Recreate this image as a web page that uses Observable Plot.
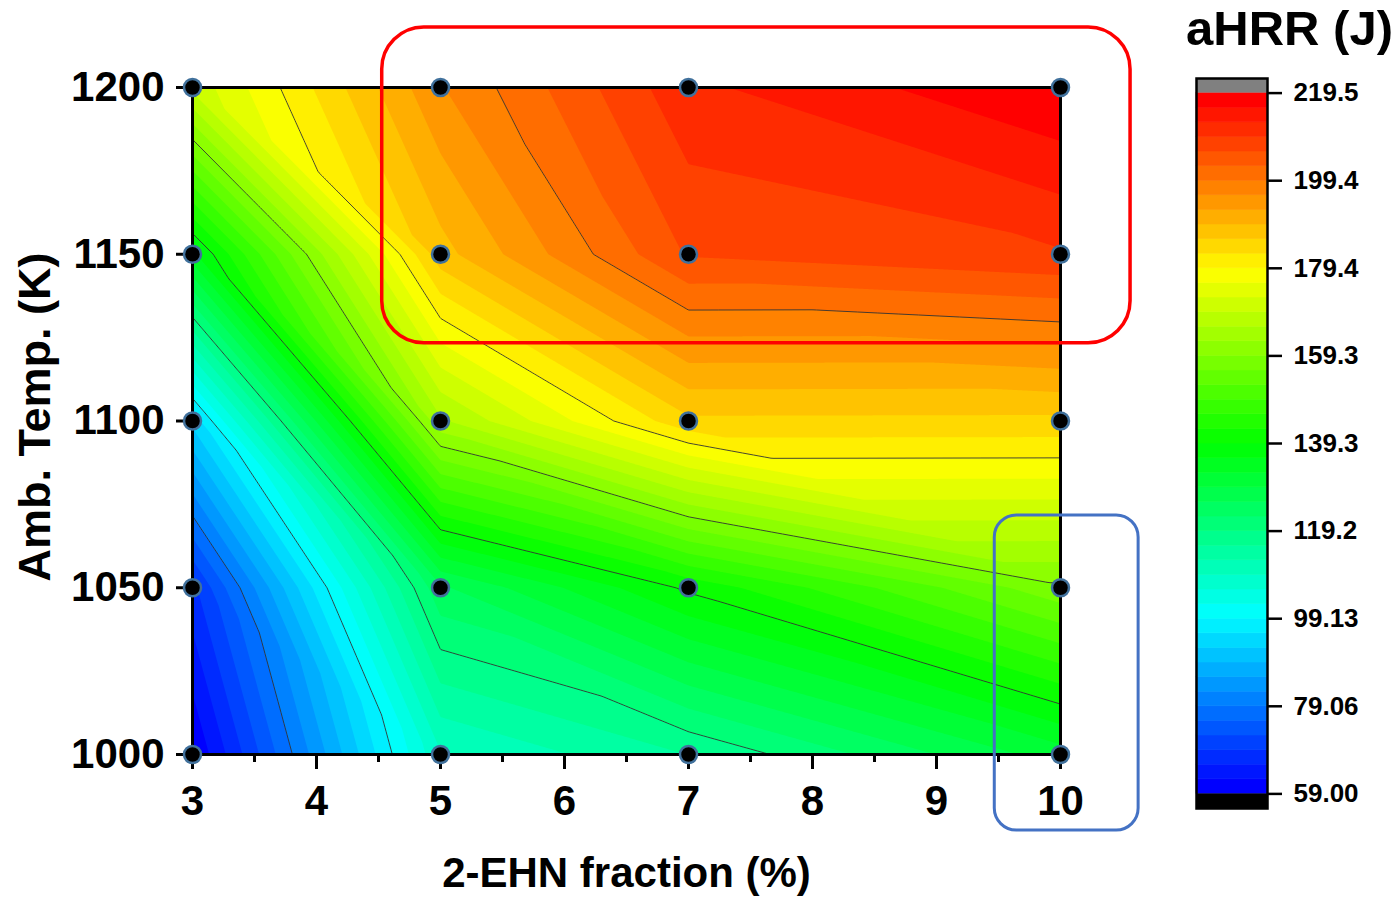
<!DOCTYPE html>
<html><head><meta charset="utf-8">
<script src="https://cdn.jsdelivr.net/npm/d3@7"></script>
<script src="https://cdn.jsdelivr.net/npm/@observablehq/plot@0.6"></script>
<style>
html,body{margin:0;padding:0;background:#fff;}
#wrap{position:relative;width:1400px;height:899px;overflow:hidden;}
#wrap svg{position:absolute;top:0;overflow:visible;}
</style></head><body><div id="wrap"></div>
<script>
// ---- data ----
const fractions = [3, 5, 7, 10];                 // 2-EHN fraction (%)
const temps = [1000, 1050, 1100, 1150, 1200];    // ambient temperature (K)
const hrr1000 = [59.0, 108.8, 115.9, 130.9];     // aHRR (J) at 1000 K
const hrr1050 = [68.1, 125.3, 140.0, 158.5];
const hrr1100 = [93.5, 165.4, 185.4, 185.3];
const hrr1150 = [134.8, 188.1, 206.5, 209.1];
const hrr1200 = [170.4, 195.8, 212.0, 219.5];
const xTicks = [3, 4, 5, 6, 7, 8, 9, 10];
const xMinorTicks = [3.5, 4.5, 5.5, 6.5, 7.5, 8.5, 9.5];
const yTicks = [1000, 1050, 1100, 1150, 1200];
const cbTickLabels = ["59.00", "79.06", "99.13", "119.2", "139.3", "159.3", "179.4", "199.4", "219.5"];
const rainbow = ["#0000ff", "#00ffff", "#00ff00", "#ffff00", "#ff0000"];
// highlight boxes (data units): red, blue
const boxX1 = [4.53, 9.47];
const boxX2 = [10.565, 10.63];
const boxY1 = [1123.3, 977.2];
const boxY2 = [1218.0, 1071.7];
const xTitle = "2-EHN fraction (%)";
const yTitle = "Amb. Temp. (K)";
const cbTitle = "aHRR (J)";

// ---- build tables ----
const rows = [hrr1000, hrr1050, hrr1100, hrr1150, hrr1200];
const pts = [];
temps.forEach((t, j) => fractions.forEach((f, i) => pts.push({x: f, y: t, v: rows[j][i]})));
const vMin = d3.min(pts, d => d.v), vMax = d3.max(pts, d => d.v);
const nBands = 48, step = (vMax - vMin) / nBands;
const bandLevels = d3.range(nBands).map(i => vMin + i * step);
const majorLevels = d3.range(1, 8).map(k => vMin + k * 6 * step);
const cbTicks = d3.range(9).map(k => vMin + k * 6 * step);
const topBand = bandLevels[nBands - 1];
const colorStops = rainbow.map((c, k) => vMin + k * (topBand - vMin) / 4);
const colorOpts = {type: "linear", domain: colorStops, range: rainbow, interpolate: "rgb"};
const boxes = boxX1.map((x1, i) => ({x1, x2: boxX2[i], y1: boxY1[i], y2: boxY2[i]}));
const font = '"Liberation Sans", Arial, Helvetica, sans-serif';
const [xLo, xHi] = d3.extent(fractions), [yLo, yHi] = d3.extent(temps);

// triangulated (linear) interpolation of the grid: each cell split along its
// top-left / bottom-right diagonal, as the original contour software does
function field(x, y) {
  let i = Math.max(0, Math.min(fractions.length - 2, d3.bisectRight(fractions, x) - 1));
  let j = Math.max(0, Math.min(temps.length - 2, d3.bisectRight(temps, y) - 1));
  const u = (x - fractions[i]) / (fractions[i + 1] - fractions[i]);
  const w = (y - temps[j]) / (temps[j + 1] - temps[j]);
  const a = rows[j][i], b = rows[j][i + 1], c = rows[j + 1][i + 1], d = rows[j + 1][i];
  if (u + w <= 1) return a + u * (b - a) + w * (d - a);
  return c + (1 - u) * (d - c) + (1 - w) * (b - c);
}

const main = Plot.plot({
  width: 1400, height: 899,
  marginLeft: 192, marginRight: 340, marginTop: 87, marginBottom: 145,
  style: {fontFamily: font, background: "transparent", overflow: "visible", color: "black"},
  x: {domain: [xLo, xHi]},
  y: {domain: [yLo, yHi]},
  color: colorOpts,
  marks: [
    Plot.contour({x1: xLo, x2: xHi, y1: yLo, y2: yHi, fill: field, thresholds: bandLevels, pixelSize: 1}),
    Plot.contour({x1: xLo, x2: xHi, y1: yLo, y2: yHi, value: field, thresholds: majorLevels, pixelSize: 1,
      fill: "none", stroke: "#333", strokeWidth: 0.9}),
    Plot.frame({stroke: "black", strokeWidth: 3}),
    Plot.axisX(xMinorTicks, {tickSize: 8, strokeWidth: 3, tickFormat: () => "", label: null}),
    Plot.axisX(xTicks, {tickSize: 15, tickPadding: 16, strokeWidth: 3, fontSize: 42, fontWeight: "bold", label: null, tickFormat: d => String(d)}),
    Plot.axisY(yTicks, {tickSize: 16, tickPadding: 12, strokeWidth: 3, fontSize: 42, fontWeight: "bold", label: null, tickFormat: d => String(d)}),
    Plot.dot(pts, {x: "x", y: "y", r: 8.5, fill: "black", stroke: "#41719c", strokeWidth: 2.5}),
    Plot.rect(boxes.slice(0, 1), {x1: "x1", x2: "x2", y1: "y1", y2: "y2", fill: "none", stroke: "#ff0000", strokeWidth: 3.5, rx: 42}),
    Plot.rect(boxes.slice(1, 2), {x1: "x1", x2: "x2", y1: "y1", y2: "y2", fill: "none", stroke: "#4472c4", strokeWidth: 3, rx: 22}),
    Plot.text([xTitle], {text: d => d, frameAnchor: "bottom", dy: 119, fontSize: 42, fontWeight: "bold", lineAnchor: "middle"}),
    Plot.text([yTitle], {text: d => d, frameAnchor: "left", textAnchor: "middle", rotate: -90, dx: -157, dy: -4, fontSize: 45, fontWeight: "bold", lineAnchor: "middle"})
  ]
});

const bands = bandLevels.map(lo => ({lo, hi: lo + step}));
const cb = Plot.plot({
  width: 220, height: 899,
  marginLeft: 16, marginRight: 133, marginTop: 78, marginBottom: 91,
  style: {fontFamily: font, background: "transparent", overflow: "visible", color: "black"},
  y: {domain: [vMin - step, vMax + step]},
  color: colorOpts,
  marks: [
    Plot.rect(bands, {y1: "lo", y2: "hi", fill: "lo", stroke: "lo", strokeWidth: 0.6}),
    Plot.rect([vMax], {y1: d => d, y2: d => d + step, fill: "#808080"}),
    Plot.rect([vMin], {y1: d => d - step, y2: d => d, fill: "black"}),
    Plot.frame({stroke: "black", strokeWidth: 2.5}),
    Plot.axisY(cbTicks, {anchor: "right", tickSize: 14, tickPadding: 12, strokeWidth: 2.5, fontSize: 26, fontWeight: "bold", label: null,
      tickFormat: d => cbTickLabels[cbTicks.indexOf(d)]}),
    Plot.text([cbTitle], {text: d => d, frameAnchor: "top", dx: 57.5, dy: -49, fontSize: 49, fontWeight: "bold", lineAnchor: "middle"})
  ]
});

const wrap = document.getElementById("wrap");
main.style.left = "0px";
cb.style.left = "1180px";
wrap.appendChild(main);
wrap.appendChild(cb);
</script>
</body></html>
